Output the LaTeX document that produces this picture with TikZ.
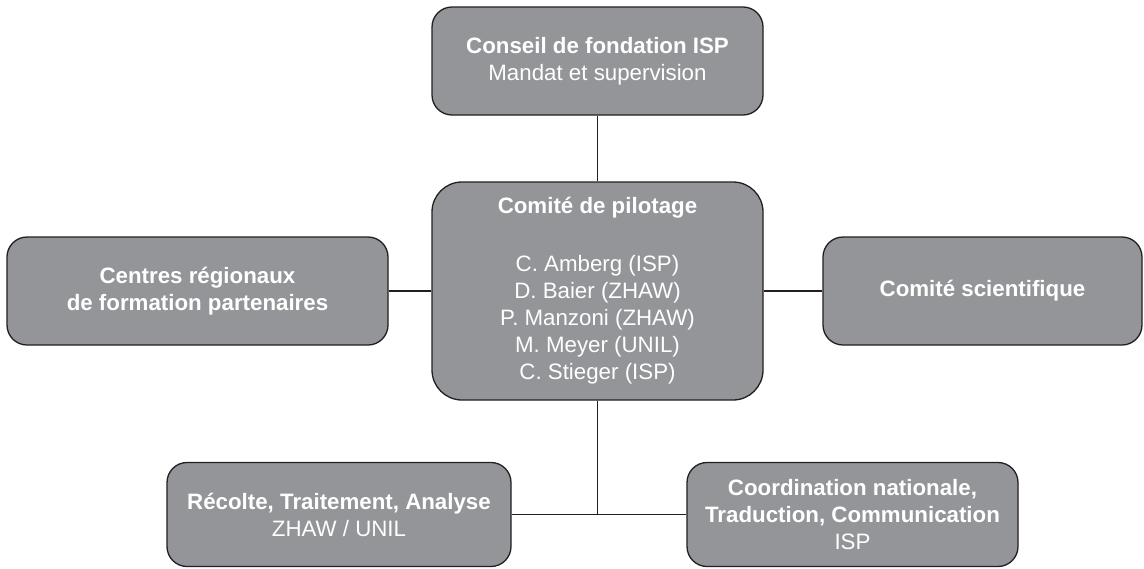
\documentclass[tikz,border=0pt]{standalone}
\usepackage{fontspec}
\setmainfont{Liberation Sans}
\usetikzlibrary{positioning}
\definecolor{boxgray}{HTML}{939598}
\definecolor{boxline}{HTML}{231F20}
\tikzset{
  orgbox/.style={draw=boxline, line width=1.3pt, fill=boxgray, rounded corners=20pt,
    text=white, align=center, inner sep=0pt,
    font=\fontsize{22.3}{27}\selectfont},
  link/.style={draw=boxline, line width=1.6pt}
}
\begin{document}
\begin{tikzpicture}[x=1pt,y=-1pt]
		\useasboundingbox (0,0) rectangle (1144,568);

		\node[orgbox, minimum width=331pt, minimum height=108pt] (conseil) at (597.5,61)
			{\textbf{Conseil de fondation ISP}\\Mandat et supervision};
		\node[orgbox, minimum width=331pt, minimum height=218pt, rounded corners=30pt] (pilotage) at (597.5,291)
			{\textbf{Comité de pilotage}\\[31pt]C. Amberg (ISP)\\D. Baier (ZHAW)\\P. Manzoni (ZHAW)\\M. Meyer (UNIL)\\C. Stieger (ISP)};
		\node[orgbox, minimum width=381pt, minimum height=108pt] (centres) at (197.5,291)
			{\textbf{Centres régionaux}\\\textbf{de formation partenaires}};
		\node[orgbox, minimum width=319pt, minimum height=108pt] (scientifique) at (982.5,291)
			{\textbf{Comité scientifique}};
		\node[orgbox, minimum width=344pt, minimum height=104pt] (recolte) at (339,514.5)
			{\textbf{Récolte, Traitement, Analyse}\\ZHAW / UNIL};
		\node[orgbox, minimum width=331pt, minimum height=104pt] (coord) at (852.5,514.5)
			{\textbf{Coordination nationale,}\\\textbf{Traduction, Communication}\\ISP};

		\coordinate (jonction) at (pilotage.south |- recolte.east);

		\draw[link] (conseil) -- (pilotage);
		\draw[link] (centres) -- (pilotage);
		\draw[link] (pilotage) -- (scientifique);
		\draw[link] (pilotage.south) -- (jonction);
		\draw[link] (recolte) -- (coord);
	\end{tikzpicture}
\end{document}
